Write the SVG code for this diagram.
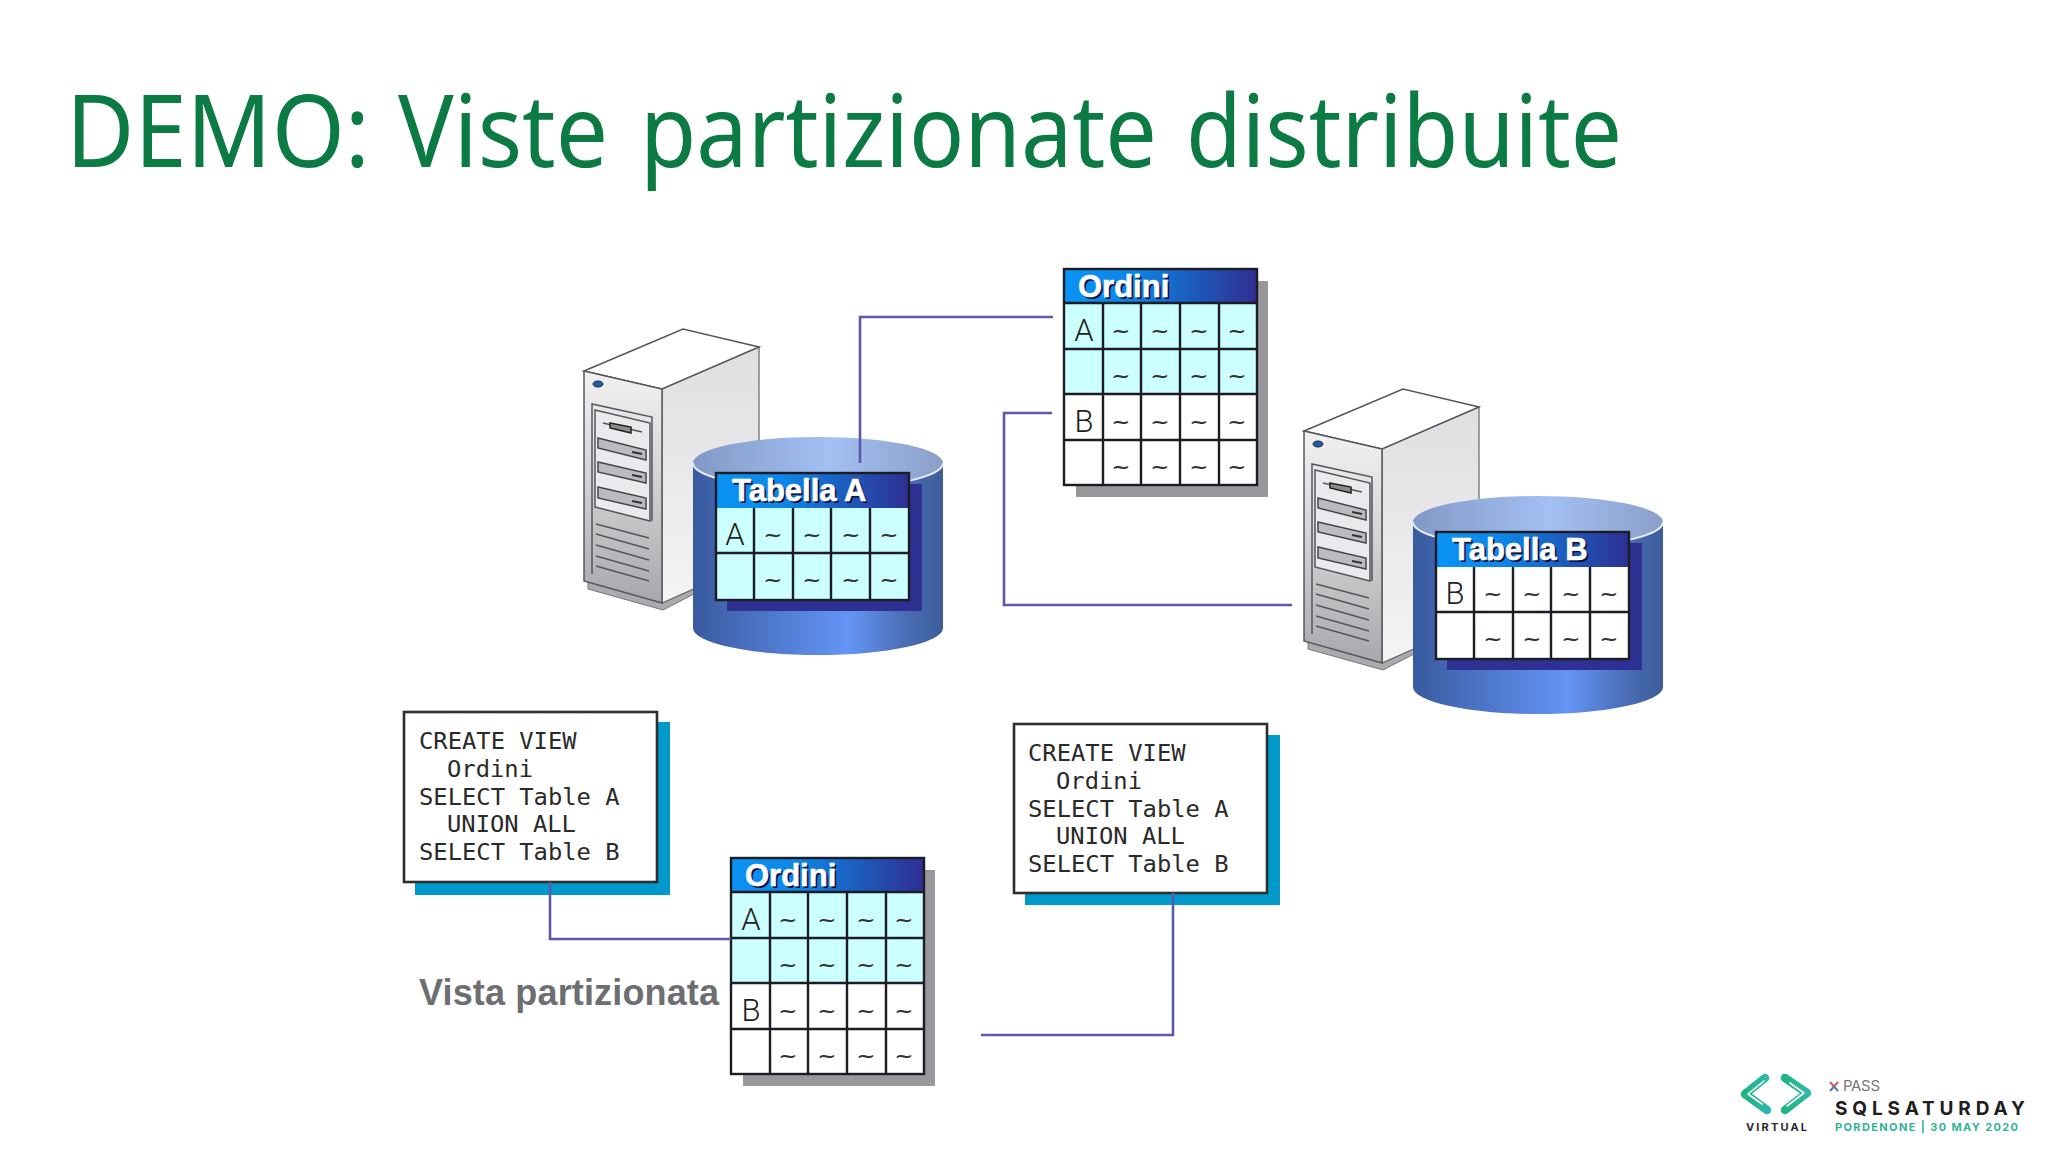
<svg xmlns="http://www.w3.org/2000/svg" xmlns:xlink="http://www.w3.org/1999/xlink" width="2048" height="1152" viewBox="0 0 2048 1152">
<style>
.grid{fill:none;stroke:#1c1c24;stroke-width:2.4}
.hdr{font:bold 31px "Liberation Sans",Arial,sans-serif;fill:#fff;stroke:#fff;stroke-width:.6}
.hdrs{font:bold 31px "Liberation Sans",Arial,sans-serif;fill:#12123c}
.k{font:300 31px Roboto,"Liberation Sans",Arial,sans-serif;fill:#222}
.t{font:23px "DejaVu Sans",sans-serif;fill:#333;text-anchor:middle}
.code{font:23.8px "DejaVu Sans Mono","Liberation Mono",monospace;fill:#2a2a2a;white-space:pre}
.conn{fill:none;stroke:#5a5aa8;stroke-width:2.6}
.ln{fill:none;stroke:#55555c;stroke-width:1.5}
.box{fill:#fff;stroke:#2e2e2e;stroke-width:2.6}
.lg{font-family:Inter,"Liberation Sans",sans-serif;font-weight:700}
</style>
<defs>
<linearGradient id="hg"><stop offset="0" stop-color="#0a93f5"/><stop offset=".35" stop-color="#0d86e6"/><stop offset="1" stop-color="#2e2f92"/></linearGradient>
<linearGradient id="side"><stop offset="0" stop-color="#3a5a9e"/><stop offset=".25" stop-color="#4a72c4"/><stop offset=".62" stop-color="#6495f5"/><stop offset=".85" stop-color="#4a6db5"/><stop offset="1" stop-color="#3d5c9a"/></linearGradient>
<linearGradient id="cap"><stop offset="0" stop-color="#8299c6"/><stop offset=".55" stop-color="#a3c0f3"/><stop offset="1" stop-color="#8a9fc8"/></linearGradient>
<linearGradient id="front" x1="0" y1="0" x2="0" y2="1"><stop offset="0" stop-color="#f2f2f3"/><stop offset=".45" stop-color="#d4d4d6"/><stop offset="1" stop-color="#a8a8ac"/></linearGradient>
<linearGradient id="sv" x1="0" y1="0" x2="0" y2="1"><stop offset="0" stop-color="#dfdfe2"/><stop offset="1" stop-color="#f4f4f5"/></linearGradient>
<linearGradient id="lg"><stop offset="0" stop-color="#1eb583"/><stop offset="1" stop-color="#2fb8a8"/></linearGradient>
<g id="server">
<path d="M588 583V589L663 610L694 594V570L588 575Z" fill="#ababaf" stroke="#777" stroke-width="1"/>
<path d="M662 389L759 347V560L662 603Z" fill="url(#sv)" stroke="#666" stroke-width="1.2"/>
<path d="M584 371L683 329L759 347L662 389Z" fill="#fff" stroke="#55555c" stroke-width="1.5"/>
<path d="M584 371L662 389V603L584 581Z" fill="url(#front)" stroke="#55555c" stroke-width="1.5"/>
<ellipse cx="598" cy="384" rx="5" ry="3" fill="#1a5fa8" stroke="#223" stroke-width="1"/>
<path class="ln" d="M592 574V404L652 417V521"/>
<path d="M595 410L650 423V521L595 507Z" fill="#eaeaec" stroke="#55555c" stroke-width="1.5"/>
<path class="ln" d="M603 423L642 432" stroke-width="1"/>
<path d="M610 423L631 427V433L610 428Z" fill="#8b8b90" stroke="#222" stroke-width="1.5"/>
<g fill="#bcbcc0" stroke="#44444a" stroke-width="1.5">
<path d="M598 438L646 450V460L598 448Z"/>
<path d="M598 462L646 473V483L598 472Z"/>
<path d="M598 487L646 498V509L598 498Z"/>
</g>
<g stroke="#333" stroke-width="2"><path d="M632 452L642 454M632 475L642 477M632 501L642 503"/></g>
<path class="ln" d="M596 524L649 538M596 534L649 549M596 545L649 560M596 556L649 571M596 566L649 581"/>
</g>
<g id="cyl">
<path d="M693 464V628A125 27 0 0 0 943 628V464Z" fill="url(#side)"/>
<ellipse cx="818" cy="463" rx="125" ry="26" fill="url(#cap)"/>
<path d="M693 463A125 26 0 0 0 943 463" fill="none" stroke="#e8eefc" stroke-width="1.8"/>
<rect x="727" y="484" width="195" height="127" fill="#2e3192"/>
</g>
<g id="g2"><path class="grid" d="M38 35V127M77 35V127M115 35V127M154 35V127M0 80H193"/><rect class="grid" width="193" height="127"/></g>
<g id="g4"><path class="grid" d="M39 34V216M77 34V216M116 34V216M155 34V216M0 34H193M0 80H193M0 125H193M0 171H193"/><rect class="grid" width="193" height="216"/></g>
</defs>
<rect width="2048" height="1152" fill="#fff"/>
<text id="title" y="167" font-family="'Noto Sans','Open Sans',sans-serif" font-size="100" fill="#0b7a43"><tspan x="66" textLength="304" lengthAdjust="spacingAndGlyphs">DEMO:</tspan> <tspan x="398" textLength="210" lengthAdjust="spacingAndGlyphs">Viste</tspan> <tspan x="640" textLength="517" lengthAdjust="spacingAndGlyphs">partizionate</tspan> <tspan x="1186" textLength="436" lengthAdjust="spacingAndGlyphs">distribuite</tspan></text>

<g id="server-a"><use xlink:href="#server" href="#server"/></g>
<g id="server-b"><use xlink:href="#server" href="#server" transform="translate(720 60)"/></g>
<g id="cylinder-a"><use xlink:href="#cyl" href="#cyl"/></g>
<g id="cylinder-b"><use xlink:href="#cyl" href="#cyl" transform="translate(720 59)"/></g>

<g id="tabella-a" transform="translate(716 473)">
<rect width="193" height="127" fill="#ccffff"/>
<rect width="193" height="35" fill="url(#hg)"/>
<use xlink:href="#g2" href="#g2"/>
<text class="hdrs" x="18" y="30">Tabella A</text><text class="hdr" x="16" y="28">Tabella A</text>
<text class="k" x="19" y="72" text-anchor="middle">A</text>
<text class="t" y="70" x="57 96 135 173">~~~~</text>
<text class="t" y="115" x="57 96 135 173">~~~~</text>
</g>
<g id="tabella-b" transform="translate(1436 532)">
<rect width="193" height="127" fill="#fff"/>
<rect width="193" height="35" fill="url(#hg)"/>
<use xlink:href="#g2" href="#g2"/>
<text class="hdrs" x="18" y="30">Tabella B</text><text class="hdr" x="16" y="28">Tabella B</text>
<text class="k" x="19" y="72" text-anchor="middle">B</text>
<text class="t" y="70" x="57 96 135 173">~~~~</text>
<text class="t" y="115" x="57 96 135 173">~~~~</text>
</g>
<g id="ordini-top" transform="translate(1064 269)">
<rect x="12" y="12" width="192" height="216" fill="#98989c"/>
<rect width="192" height="216" fill="#fff"/>
<rect y="34" width="192" height="91" fill="#ccffff"/>
<rect width="192" height="34" fill="url(#hg)"/>
<use xlink:href="#g4" href="#g4"/>
<text class="hdrs" x="16" y="30">Ordini</text><text class="hdr" x="14" y="28">Ordini</text>
<text class="k" x="20" y="72" text-anchor="middle">A</text>
<text class="k" x="20" y="163" text-anchor="middle">B</text>
<text class="t" y="70" x="57 96 135 173">~~~~</text>
<text class="t" y="115" x="57 96 135 173">~~~~</text>
<text class="t" y="161" x="57 96 135 173">~~~~</text>
<text class="t" y="206" x="57 96 135 173">~~~~</text>
</g>
<g id="ordini-vista" transform="translate(731 858)">
<rect x="12" y="12" width="192" height="216" fill="#98989c"/>
<rect width="192" height="216" fill="#fff"/>
<rect y="34" width="192" height="91" fill="#ccffff"/>
<rect width="192" height="34" fill="url(#hg)"/>
<use xlink:href="#g4" href="#g4"/>
<text class="hdrs" x="16" y="30">Ordini</text><text class="hdr" x="14" y="28">Ordini</text>
<text class="k" x="20" y="72" text-anchor="middle">A</text>
<text class="k" x="20" y="163" text-anchor="middle">B</text>
<text class="t" y="70" x="57 96 135 173">~~~~</text>
<text class="t" y="115" x="57 96 135 173">~~~~</text>
<text class="t" y="161" x="57 96 135 173">~~~~</text>
<text class="t" y="206" x="57 96 135 173">~~~~</text>
</g>
<g id="view-left">
<rect x="415" y="722" width="255" height="173" fill="#0099cc"/>
<rect class="box" x="404" y="712" width="253" height="170"/>
<text class="code" x="419" y="749">CREATE VIEW</text>
<text class="code" x="447" y="777">Ordini</text>
<text class="code" x="419" y="805">SELECT Table A</text>
<text class="code" x="447" y="832">UNION ALL</text>
<text class="code" x="419" y="860">SELECT Table B</text>
</g>
<g id="view-right">
<rect x="1025" y="735" width="255" height="170" fill="#0099cc"/>
<rect class="box" x="1014" y="724" width="253" height="169"/>
<text class="code" x="1028" y="761">CREATE VIEW</text>
<text class="code" x="1056" y="789">Ordini</text>
<text class="code" x="1028" y="817">SELECT Table A</text>
<text class="code" x="1056" y="844">UNION ALL</text>
<text class="code" x="1028" y="872">SELECT Table B</text>
</g>
<g id="connectors">
<path class="conn" d="M1053 317H860V463"/>
<path class="conn" d="M1052 413H1004V605H1292"/>
<path class="conn" d="M550 882V939H731"/>
<path class="conn" d="M1173 893V1035H981"/>
</g>
<text id="vista" x="419" y="1005" font-family="'Liberation Sans',Arial,sans-serif" font-weight="bold" font-size="36" fill="#6d6e71" textLength="300">Vista partizionata</text>
<g id="logo">
<g fill="none" stroke="url(#lg)" stroke-width="8.5" stroke-linecap="round" stroke-linejoin="round">
<path d="M1765 1078L1745 1094L1767 1110"/>
<path d="M1785 1078L1807 1093L1785 1110"/>
</g>
<g fill="none" stroke="#fff" stroke-width="1.6" stroke-linecap="round" stroke-linejoin="round">
<path d="M1764 1081L1748 1094L1762 1104"/>
<path d="M1787 1106L1804 1093L1790 1083"/>
</g>
<path d="M1830 1082L1834 1086.500M1838 1082L1834 1086.500" stroke="#d05a5a" stroke-width="2"/>
<path d="M1830 1091L1834 1086.500M1838 1091L1834 1086.500" stroke="#4d7fb8" stroke-width="2"/>
<text x="1843" y="1091" font-family="Inter,'Liberation Sans',sans-serif" font-size="15" fill="#77777c" textLength="37">PASS</text>
<text class="lg" x="1835" y="1115" font-size="19" fill="#1d1d22" textLength="190">SQLSATURDAY</text>
<text class="lg" x="1746" y="1131" font-size="11" fill="#2a2a2e" textLength="61">VIRTUAL</text>
<text class="lg" x="1835" y="1131" font-size="11" fill="#2fb596" textLength="183">PORDENONE | 30 MAY 2020</text>
</g>
</svg>
